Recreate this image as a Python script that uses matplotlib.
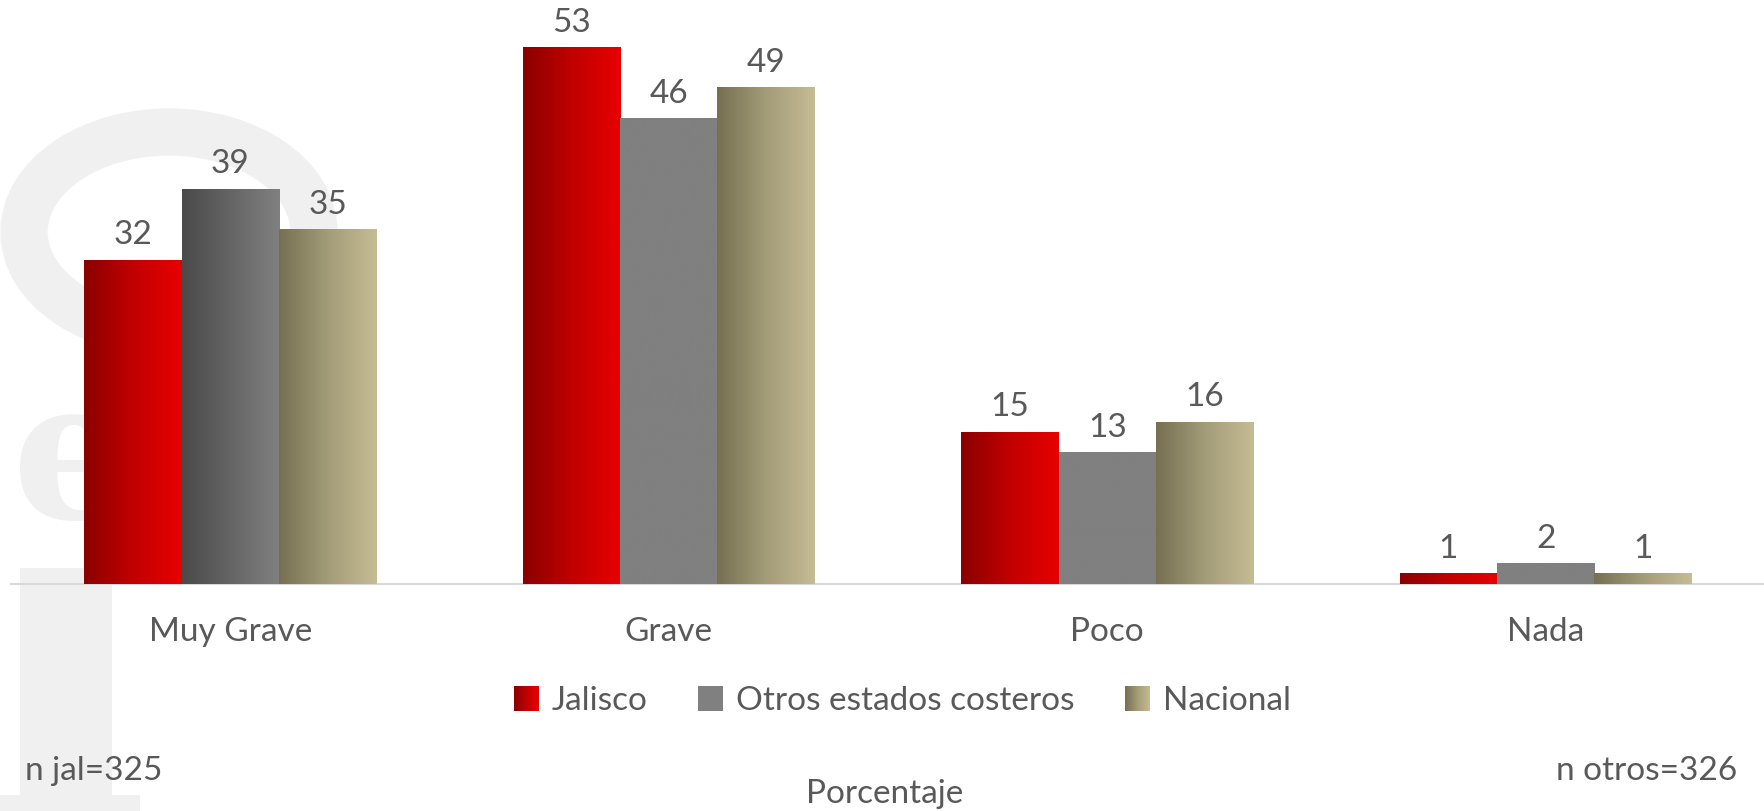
import matplotlib
matplotlib.use("Agg")
import matplotlib.pyplot as plt
import numpy as np
from matplotlib.colors import LinearSegmentedColormap
from matplotlib.patches import Ellipse, Rectangle
from matplotlib.legend_handler import HandlerBase
from matplotlib.image import BboxImage
from matplotlib.transforms import Bbox, TransformedBbox

categories = ["Muy Grave", "Grave", "Poco", "Nada"]
series_names = ["Jalisco", "Otros estados costeros", "Nacional"]
jalisco = [32, 53, 15, 1]
otros = [39, 46, 13, 2]
nacional = [35, 49, 16, 1]
note_left = "n jal=325"
note_right = "n otros=326"
x_title = "Porcentaje"

TXT = "#595959"
FONT = ["Lato", "DejaVu Sans"]
FS = 24

grad_red = LinearSegmentedColormap.from_list("r", ["#8B0000", "#C00000", "#E80000"])
grad_gray_dark = LinearSegmentedColormap.from_list("g", ["#4A4A4A", "#808080"])
grad_gray_flat = LinearSegmentedColormap.from_list("gf", ["#808080", "#808080"])
grad_tan = LinearSegmentedColormap.from_list("t", ["#767052", "#A39C78", "#C6BC94"])


def init_plt_env():
    plt.rcParams['font.family'] = FONT
    plt.rcParams['axes.unicode_minus'] = False


def draw_watermark(fig):
    c = "#F0F0F0"
    W, H = 1765, 811
    ring = Ellipse((169 / W, 1 - 232 / H), 290 / W, 200 / H, transform=fig.transFigure,
                   facecolor="none", edgecolor=c, linewidth=34, zorder=-5)
    fig.patches.append(ring)
    fig.text(12 / W, 1 - 518 / H, "e", fontsize=140, color=c, family="DejaVu Serif",
             fontweight="bold", va="baseline", ha="left", zorder=-5)
    stem = Rectangle((20 / W, 0), 92 / W, 1 - 568 / H, transform=fig.transFigure,
                     facecolor=c, edgecolor="none", zorder=-5)
    fig.patches.append(stem)
    foot = Rectangle((0, 0), 140 / W, 16 / H, transform=fig.transFigure,
                     facecolor=c, edgecolor="none", zorder=-5)
    fig.patches.append(foot)


def gradient_bars(ax, bars, cmaps):
    grad = np.linspace(0, 1, 256).reshape(1, -1)
    for b, cm in zip(bars, cmaps):
        x0, y0 = b.get_x(), b.get_y()
        w, h = b.get_width(), b.get_height()
        ax.imshow(grad, cmap=cm, extent=[x0, x0 + w, y0, y0 + h], aspect="auto",
                  interpolation="bicubic", zorder=3)


class GradHandler(HandlerBase):
    def __init__(self, cmap):
        super().__init__()
        self.cmap = cmap

    def create_artists(self, legend, orig_handle, xdescent, ydescent, width, height, fontsize, trans):
        s = min(width, height)
        bb = Bbox.from_bounds(-xdescent + (width - s) / 2, -ydescent + (height - s) / 2, s, s)
        img = BboxImage(TransformedBbox(bb, trans), cmap=self.cmap, interpolation="bicubic")
        img.set_data(np.linspace(0, 1, 64).reshape(1, -1))
        return [img]


def draw_chart():
    init_plt_env()
    fig = plt.figure(figsize=(17.65, 8.11), dpi=100)
    draw_watermark(fig)
    ax = fig.add_axes([11 / 1765, 1 - 584 / 811, 1 - 11 / 1765, 584 / 811 - 0.001])
    ax.patch.set_alpha(0)
    ax.set_zorder(2)

    x = np.arange(len(categories))
    width = 0.222
    series = [jalisco, otros, nacional]
    flat = ["#C00000", "#808080", "#A39C78"]
    handles = []
    for i, (vals, name) in enumerate(zip(series, series_names)):
        bars = ax.bar(x + (i - 1) * width, vals, width, color=flat[i], label=name, zorder=2)
        handles.append(bars)
        if i == 0:
            cms = [grad_red] * len(vals)
        elif i == 1:
            cms = [grad_gray_dark] + [grad_gray_flat] * (len(vals) - 1)
        else:
            cms = [grad_tan] * len(vals)
        gradient_bars(ax, bars, cms)
        for b, v in zip(bars, vals):
            ax.annotate(str(v), (b.get_x() + b.get_width() / 2, v), xytext=(0, 7),
                        textcoords="offset points", ha="center", va="bottom",
                        fontsize=FS, color=TXT)

    ax.set_xlim(-0.5, 3.5)
    ax.set_ylim(0, 57.6)
    for s in ["top", "right", "left"]:
        ax.spines[s].set_visible(False)
    ax.spines["bottom"].set_color("#D9D9D9")
    ax.spines["bottom"].set_linewidth(1.5)
    ax.set_yticks([])
    ax.set_xticks(x)
    ax.set_xticklabels(categories, fontsize=FS, color=TXT)
    ax.tick_params(axis="x", length=0, pad=24)

    fig.legend(handles, series_names, loc="center", bbox_to_anchor=(902 / 1765, 1 - 701 / 811),
               ncol=3, frameon=False, fontsize=FS, labelcolor=TXT,
               handlelength=0.75, handleheight=0.75, handletextpad=0.4, columnspacing=1.5,
               handler_map={handles[0]: GradHandler(grad_red),
                            handles[2]: GradHandler(grad_tan)})

    fig.text(25 / 1765, 1 - 771 / 811, note_left, fontsize=FS, color=TXT, ha="left", va="center")
    fig.text(1737 / 1765, 1 - 771 / 811, note_right, fontsize=FS, color=TXT, ha="right", va="center")
    fig.text(885 / 1765, 1 - 794 / 811, x_title, fontsize=FS, color=TXT, ha="center", va="center")

    plt.savefig("out.png", dpi=100)


if __name__ == '__main__':
    draw_chart()
